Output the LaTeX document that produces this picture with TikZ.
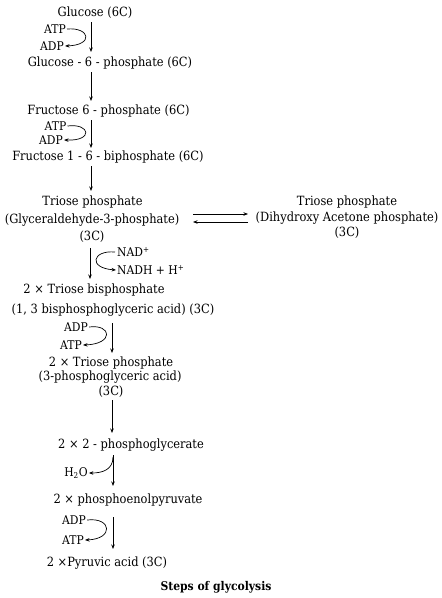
\documentclass[tikz,border=0pt]{standalone}
\usepackage{fontspec}
\setmainfont{DejaVu Serif Condensed}
\usetikzlibrary{arrows.meta}
\begin{document}
\begin{tikzpicture}[x=1pt,y=-1pt,
  lbl/.style={inner sep=0pt,font=\fontsize{12.7}{14}\selectfont},
  sm/.style={inner sep=0pt,font=\fontsize{12}{14}\selectfont},
  arr/.style={-{Stealth[length=4.5pt,width=3.5pt]},line width=0.7pt},
  carr/.style={-{Stealth[length=4.5pt,width=3.5pt]},line width=0.7pt}]
\useasboundingbox (0,0) rectangle (442,598);
% main chain
\node[lbl] (g) at (95,13) {Glucose (6C)};
\node[lbl] (g6p) at (110,63) {Glucose - 6 - phosphate (6C)};
\node[lbl] (f6p) at (108.5,111) {Fructose 6 - phosphate (6C)};
\node[lbl] (fbp) at (108,157) {Fructose 1 - 6 - biphosphate (6C)};
\node[lbl] (tp1) at (92.5,202) {Triose phosphate};
\node[lbl] (gap) at (92,220) {(Glyceraldehyde-3-phosphate)};
\node[lbl] (gc) at (92,237) {(3C)};
\node[lbl] (tp2) at (347,202) {Triose phosphate};
\node[lbl] (dhap) at (347,218) {(Dihydroxy Acetone phosphate)};
\node[lbl] (dc) at (347,233) {(3C)};
\node[lbl] (tbp) at (94,290) {2 × Triose bisphosphate};
\node[lbl] (bpg) at (113,310) {(1, 3 bisphosphoglyceric acid) (3C)};
\node[lbl] (tp3) at (111,363) {2 × Triose phosphate};
\node[lbl] (pga) at (110,377) {(3-phosphoglyceric acid)};
\node[lbl] (pc) at (111,392) {(3C)};
\node[lbl] (pg2) at (131,445) {2 × 2 - phosphoglycerate};
\node[lbl] (pep) at (128,500) {2 × phosphoenolpyruvate};
\node[lbl] (pyr) at (107,563) {2 ×Pyruvic acid (3C)};
\node[inner sep=0pt,font=\fontsize{12}{14}\selectfont\bfseries] (title) at (216,587) {Steps of glycolysis};
% side labels
\node[sm] (atp1) at (55,29) {ATP};
\node[sm] (adp1) at (52,46) {ADP};
\node[sm] (atp2) at (55.5,126) {ATP};
\node[sm] (adp2) at (51,140) {ADP};
\node[sm,anchor=west] (nad) at (117,252) {NAD\textsuperscript{+}};
\node[sm,anchor=west] (nadh) at (117,270) {NADH + H\textsuperscript{+}};
\node[sm] (adp3) at (76,327) {ADP};
\node[sm] (atp3) at (71,345) {ATP};
\node[sm] (h2o) at (76,473) {H\textsubscript{2}O};
\node[sm] (adp4) at (74,520) {ADP};
\node[sm] (atp4) at (73,540) {ATP};
% coordinates for shafts
\coordinate (s1a) at (91,22); \coordinate (s1b) at (91,52);
\coordinate (s2a) at (91,72); \coordinate (s2b) at (91,101);
\coordinate (s3a) at (91,120); \coordinate (s3b) at (91,148);
\coordinate (s4a) at (91,166); \coordinate (s4b) at (91,191);
\coordinate (s5a) at (90,248); \coordinate (s5b) at (90,279);
\coordinate (s6a) at (112,323); \coordinate (s6b) at (112,353);
\coordinate (s7a) at (112,400); \coordinate (s7b) at (112,433);
\coordinate (s8a) at (113,455); \coordinate (s8b) at (113,486);
\coordinate (s9a) at (113,517); \coordinate (s9b) at (113,549);
\draw[arr] (s1a) -- (s1b);
\draw[arr] (s2a) -- (s2b);
\draw[arr] (s3a) -- (s3b);
\draw[arr] (s4a) -- (s4b);
\draw[arr] (s5a) -- (s5b);
\draw[arr] (s6a) -- (s6b);
\draw[arr] (s7a) -- (s7b);
\draw[arr] (s8a) -- (s8b);
\draw[arr] (s9a) -- (s9b);
% equilibrium
\coordinate (e1a) at (193,214); \coordinate (e1b) at (248,214);
\coordinate (e2a) at (248,222); \coordinate (e2b) at (193,222);
\draw[arr] (e1a) -- (e1b);
\draw[arr] (e2a) -- (e2b);
% curved side arrows
\draw[carr] ([xshift=1pt]atp1.east) .. controls (90,27) and (94,45) .. ([xshift=1pt]adp1.east);
\draw[carr] ([xshift=1pt]atp2.east) .. controls (90,123) and (94,141) .. ([xshift=1pt]adp2.east);
\draw[carr] ([xshift=-2pt]nad.west) .. controls (92,250) and (88,268) .. ([xshift=-1pt]nadh.west);
\draw[carr] ([xshift=1pt]adp3.east) .. controls (112,324) and (114,344) .. ([xshift=1pt]atp3.east);
\draw[carr] (113,457) .. controls (113,470) and (102,473) .. ([xshift=1pt]h2o.east);
\draw[carr] ([xshift=1pt]adp4.east) .. controls (112,517) and (114,539) .. ([xshift=1pt]atp4.east);
\end{tikzpicture}
\end{document}
